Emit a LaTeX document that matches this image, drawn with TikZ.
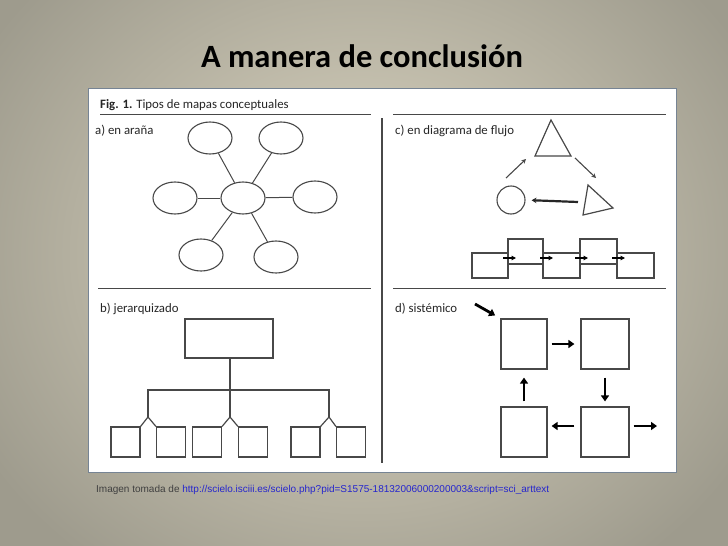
\documentclass[tikz,border=0pt]{standalone}
\usepackage{fontspec}
\setmainfont{Carlito}
\newfontfamily\capfont{Liberation Sans}
\usetikzlibrary{shapes.geometric}
\usetikzlibrary{arrows.meta}
\definecolor{bgin}{RGB}{222,216,196}
\definecolor{bgout}{RGB}{158,155,141}
\definecolor{ink}{RGB}{72,72,72}
\definecolor{rim}{RGB}{118,132,148}
\definecolor{linkblue}{RGB}{38,38,205}
\tikzset{every picture/.style={x=1pt, y=-1pt}}
\tikzset{blob/.style = {draw=ink, ellipse, line width=1.1pt, minimum width=44, minimum height=32, inner sep=0}}
\tikzset{box/.style = {draw=ink, rectangle, line width=1.2pt, inner sep=0}}
\tikzset{fat/.style = {line width=2.8pt, -{Triangle[length=6pt,width=8pt]}}}
\tikzset{thin arrow/.style = {ink, line width=1.1pt, -{Stealth[length=4.5pt,width=4.5pt]}}}
\tikzset{label text/.style = {anchor=base west, inner sep=0, font=\fontsize{12.8}{14}\selectfont, text=black!85}}

\begin{document}
\begin{tikzpicture}
  \useasboundingbox (0,0) rectangle (728,546);
  \shade[inner color=bgin, outer color=bgout] (-80,-140) rectangle (808,646);
  \fill[white] (88,88) rectangle (676,472);
  \draw[rim, line width=0.8pt] (88,88) rectangle (676,472);

  \node[anchor=base, inner sep=0, font=\fontsize{32.5}{38}\selectfont\bfseries] (title) at (362,67) {A manera de conclusión};

  % frame of the figure
  \draw[ink, line width=0.9pt] (100,114) -- (371,114) (393,114) -- (666,114);
  \draw[ink, line width=0.9pt] (98,288) -- (371,288) (393,288) -- (666,288);
  \draw[ink, line width=2pt] (382,118) -- (382,463);
  \node[label text] (fig) at (100,108) {\textbf{Fig. 1.} Tipos de mapas conceptuales};
  \node[label text] (la) at (95,134) {a) en araña};
  \node[label text] (lb) at (100,312) {b) jerarquizado};
  \node[label text] (lc) at (395,134) {c) en diagrama de flujo};
  \node[label text] (ld) at (395,312) {d) sistémico};

  % a) spider
  \node[blob] (hub) at (243,198) {};
  \node[blob] (tl) at (210,138) {};
  \node[blob] (tr) at (281,138) {};
  \node[blob] (l) at (175,198) {};
  \node[blob] (r) at (315,197) {};
  \node[blob] (bl) at (201,255) {};
  \node[blob] (br) at (276,257) {};
  \foreach \b in {tl,tr,l,r,bl,br}
    \draw[ink, line width=1pt] (hub) -- (\b);

  % b) hierarchy
  \node[box, minimum width=88, minimum height=39] (top) at (229,338.5) {};
  \foreach \n/\x in {h1/125.5, h2/171, h3/207, h4/253, h5/305.5, h6/351}
    \node[box, minimum width=29, minimum height=30] (\n) at (\x,442) {};
  \coordinate (j1) at (148,417);
  \coordinate (j2) at (230,417);
  \coordinate (j3) at (329,417);
  \coordinate (k1) at (148,390);
  \coordinate (k3) at (329,390);
  \draw[ink, line width=1.2pt] (top.south -| j2) -- (j2);
  \draw[ink, line width=1.2pt] (j1) -- (k1) -- (k3) -- (j3);
  \draw[ink, line width=1.2pt] (h1.north east) -- (j1) -- (h2.north west);
  \draw[ink, line width=1.2pt] (h3.north east) -- (j2) -- (h4.north west);
  \draw[ink, line width=1.2pt] (h5.north east) -- (j3) -- (h6.north west);

  % c) flow
  \draw[ink, line width=1.2pt] (551,120) -- (571,156) -- (535,156) -- cycle;
  \draw[ink, line width=1.2pt] (588,185) -- (613,208) -- (583,215) -- cycle;
  \node[draw=ink, circle, line width=1.1pt, minimum size=28, inner sep=0] (ring) at (511,200) {};
  \coordinate (c1) at (506,178);
  \coordinate (c2) at (526,159);
  \coordinate (c3) at (575,158);
  \coordinate (c4) at (596,178);
  \coordinate (c5) at (578,202);
  \draw[thin arrow] (c1) -- (c2);
  \draw[thin arrow] (c3) -- (c4);
  \draw[black!85, line width=2.2pt, -{Stealth[length=5pt,width=5.5pt]}] (c5) -- (ring.east) [shorten >=6pt];
  \node[box, minimum width=36, minimum height=25] (f1) at (490,265.5) {};
  \node[box, minimum width=35, minimum height=25] (f2) at (525.5,251.5) {};
  \node[box, minimum width=37, minimum height=25] (f3) at (561.5,265.5) {};
  \node[box, minimum width=37, minimum height=25] (f4) at (598.5,251.5) {};
  \node[box, minimum width=37, minimum height=25] (f5) at (635.5,265.5) {};
  \foreach \xa in {503,540,575,612}
    \draw[black, line width=1.1pt, -{Triangle[length=4.5pt,width=4.5pt]}] (\xa,258) -- ++(13,0);

  % d) system
  \node[box, minimum width=46, minimum height=50] (s1) at (524,344) {};
  \node[box, minimum width=48, minimum height=50] (s2) at (605,344) {};
  \node[box, minimum width=46, minimum height=50] (s3) at (524,432) {};
  \node[box, minimum width=48, minimum height=50] (s4) at (605,432) {};
  \coordinate (in) at (475,304);
  \coordinate (out) at (657,426);
  \draw[fat, shorten >=6pt] (in) -- (s1.north west);
  \draw[fat, shorten <=4pt, shorten >=6pt] (s1) -- (s2);
  \draw[fat, shorten <=8pt, shorten >=5pt] (s2) -- (s4);
  \draw[fat, shorten <=6pt, shorten >=4pt] ([yshift=6pt]s4.west) -- ([yshift=6pt]s3.east);
  \draw[fat, shorten <=5pt, shorten >=8pt] (s3) -- (s1);
  \draw[fat, shorten <=4pt] ([yshift=6pt]s4.east) -- (out);

  \node[anchor=base west, inner sep=0, font=\capfont\fontsize{10}{12}\selectfont] (src) at (96,492)
    {\textcolor{black!75}{Imagen tomada de} \textcolor{linkblue}{http://scielo.isciii.es/scielo.php?pid=S1575-18132006000200003\&script=sci\_arttext}};
\end{tikzpicture}
\end{document}
